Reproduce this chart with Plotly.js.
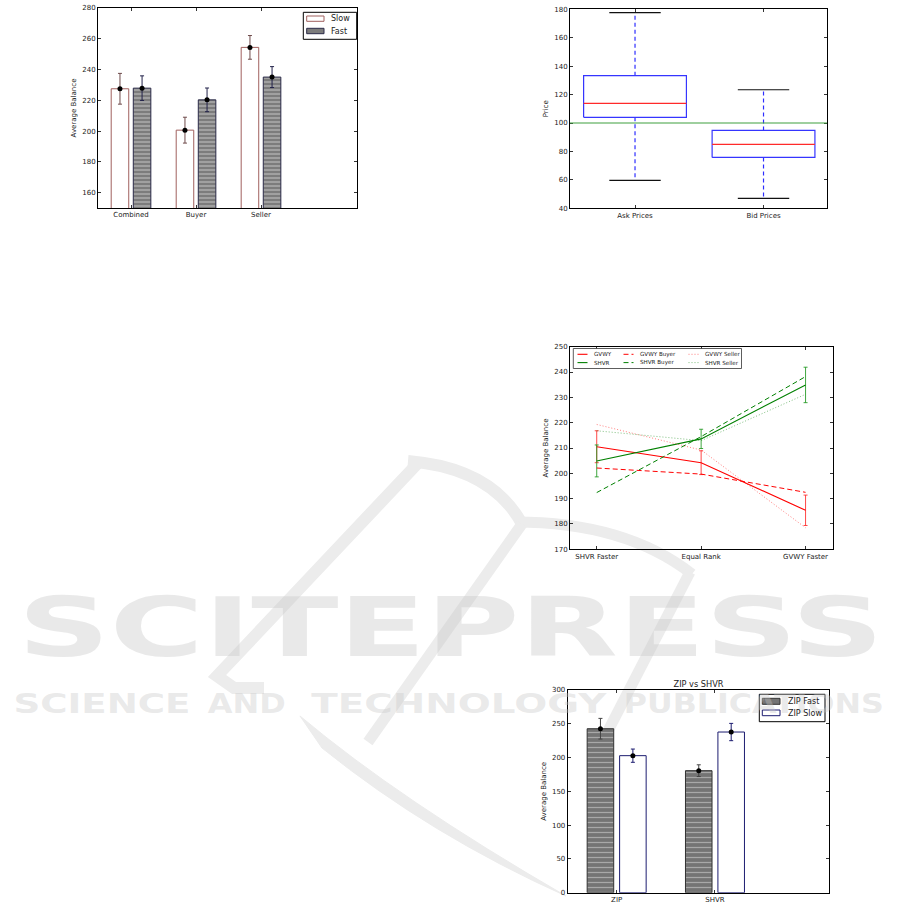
<!DOCTYPE html>
<html><head><meta charset="utf-8">
<script src="https://cdn.plot.ly/plotly-3.0.1.min.js"></script>
<style>html,body{margin:0;padding:0;background:#fff;} #chart{width:901px;height:905px;}</style>
</head><body><div id="chart"></div>
<script>
// ---------- Chart 1: Slow vs Fast average balance ----------
const balCategories = ['Combined', 'Buyer', 'Seller'];
const balSeries = ['Slow', 'Fast'];
const balSlow = [227.5, 200.6, 254.4];
const balSlowErr = [10.0, 8.4, 7.7];
const balFast = [227.9, 220.3, 235.1];
const balFastErr = [8.0, 7.7, 6.8];

// ---------- Chart 2: Ask / Bid price box plot ----------
const priceCategories = ['Ask Prices', 'Bid Prices'];
const priceLowerWhisker = [59.7, 47.0];
const priceQ1 = [104.0, 75.8];
const priceMedian = [113.8, 85.0];
const priceQ3 = [133.3, 94.8];
const priceUpperWhisker = [177.6, 123.4];
const priceReference = 100;

// ---------- Chart 3: rank lines ----------
const rankCategories = ['SHVR Faster', 'Equal Rank', 'GVWY Faster'];
const rankSeries = ['GVWY', 'SHVR', 'GVWY Buyer', 'SHVR Buyer', 'GVWY Seller', 'SHVR Seller'];
const gvwy = [210.5, 204.2, 185.4];
const gvwyErr = [6.3, 4.7, 6.0];
const shvr = [204.9, 213.6, 234.9];
const shvrErr = [6.3, 3.8, 7.0];
const gvwyBuyer = [202.1, 199.7, 192.5];
const shvrBuyer = [192.4, 214.5, 238.2];
const gvwySeller = [219.3, 209.2, 178.5];
const shvrSeller = [216.8, 212.9, 231.2];

// ---------- Chart 4: ZIP vs SHVR ----------
const zipTitle = 'ZIP vs SHVR';
const zipCategories = ['ZIP', 'SHVR'];
const zipSeries = ['ZIP Fast', 'ZIP Slow'];
const zipFast = [242.7, 180.6];
const zipFastErr = [15.3, 8.7];
const zipSlow = [202.8, 237.8];
const zipSlowErr = [9.8, 12.8];

// ---------- helpers ----------
const W = 901, H = 905;
const fx = p => p / W;
const fy = p => 1 - p / H;
const FONT = 'DejaVu Sans';
const TXT = '#222';
const idx = arr => arr.map((_, i) => i);

const axBase = {
  showline: true, linecolor: '#000', linewidth: 1, mirror: 'allticks',
  ticks: 'inside', ticklen: 3, tickwidth: 0.8, tickcolor: '#000',
  showgrid: false, zeroline: false,
  tickfont: {family: FONT, size: 7, color: TXT}
};
const yTitle = t => ({text: t, font: {family: FONT, size: 7, color: TXT}, standoff: 4});

// styles
const SLOW1 = {fill: '#ffffff', edge: '#a0605e', err: '#6e4a4a'};
const FAST1 = {fill: '#7c7c7c', edge: '#2a2a48', err: '#22224a', hatch: '#b8b8b8'};
const FAST4 = {fill: '#747474', edge: '#333333', err: '#444444', hatch: '#a8a8a8'};
const SLOW4 = {fill: '#ffffff', edge: '#1c1c70', err: '#1c1c70'};
const rankStyle = [
  {color: '#ff0000', width: 1.1, dash: 'solid', err: 'rgba(255,40,40,0.85)'},
  {color: '#008000', width: 1.1, dash: 'solid', err: 'rgba(30,150,30,0.85)'},
  {color: '#ff0000', width: 1, dash: '5px,3px'},
  {color: '#008000', width: 1, dash: '5px,3px'},
  {color: 'rgba(255,0,0,0.5)', width: 1, dash: '1px,2px'},
  {color: 'rgba(0,128,0,0.5)', width: 1, dash: '1px,2px'}
];

const traces = [];

// Chart 1 bars
const g1 = 0.17, w1 = 0.27;
traces.push({
  type: 'bar', name: balSeries[0], showlegend: false, xaxis: 'x', yaxis: 'y',
  x: idx(balCategories).map(i => i - g1), y: balSlow, width: w1,
  marker: {color: SLOW1.fill, line: {color: SLOW1.edge, width: 1}}
});
traces.push({
  type: 'bar', name: balSeries[1], showlegend: false, xaxis: 'x', yaxis: 'y',
  x: idx(balCategories).map(i => i + g1), y: balFast, width: w1,
  marker: {color: FAST1.fill, line: {color: FAST1.edge, width: 1},
           pattern: {shape: '-', bgcolor: FAST1.fill, fgcolor: FAST1.hatch, size: 4, solidity: 0.3}}
});
traces.push({
  type: 'scatter', mode: 'markers', showlegend: false, xaxis: 'x', yaxis: 'y',
  x: idx(balCategories).map(i => i - g1), y: balSlow,
  marker: {color: '#000', size: 5},
  error_y: {type: 'data', array: balSlowErr, color: SLOW1.err, thickness: 1, width: 2}
});
traces.push({
  type: 'scatter', mode: 'markers', showlegend: false, xaxis: 'x', yaxis: 'y',
  x: idx(balCategories).map(i => i + g1), y: balFast,
  marker: {color: '#000', size: 5},
  error_y: {type: 'data', array: balFastErr, color: FAST1.err, thickness: 1, width: 2}
});

// Chart 2 box plot built from the stats arrays
const bw = 0.4, cw = 0.2;
const boxX = [], boxY = [], medX = [], medY = [], whX = [], whY = [], capX = [], capY = [];
priceCategories.forEach((c, i) => {
  boxX.push(i - bw, i + bw, i + bw, i - bw, i - bw, null);
  boxY.push(priceQ1[i], priceQ1[i], priceQ3[i], priceQ3[i], priceQ1[i], null);
  medX.push(i - bw, i + bw, null); medY.push(priceMedian[i], priceMedian[i], null);
  whX.push(i, i, null, i, i, null);
  whY.push(priceQ3[i], priceUpperWhisker[i], null, priceQ1[i], priceLowerWhisker[i], null);
  capX.push(i - cw, i + cw, null, i - cw, i + cw, null);
  capY.push(priceUpperWhisker[i], priceUpperWhisker[i], null, priceLowerWhisker[i], priceLowerWhisker[i], null);
});
const c2 = {type: 'scatter', mode: 'lines', showlegend: false, xaxis: 'x2', yaxis: 'y2'};
traces.push(Object.assign({}, c2, {x: whX, y: whY, line: {color: '#2d2dff', width: 1.2, dash: '4px,3px'}}));
traces.push(Object.assign({}, c2, {x: capX, y: capY, line: {color: '#111', width: 1.2}}));
traces.push(Object.assign({}, c2, {x: boxX, y: boxY, line: {color: '#3535ff', width: 1.2}}));
traces.push(Object.assign({}, c2, {x: medX, y: medY, line: {color: '#ff2a2a', width: 1.2}}));

// Chart 3 lines
const rankValues = [gvwy, shvr, gvwyBuyer, shvrBuyer, gvwySeller, shvrSeller];
const rankErr = [gvwyErr, shvrErr, null, null, null, null];
rankValues.forEach((vals, k) => {
  const st = rankStyle[k];
  const t = {type: 'scatter', mode: 'lines', showlegend: false, name: rankSeries[k],
    xaxis: 'x3', yaxis: 'y3', x: idx(rankCategories), y: vals,
    line: {color: st.color, width: st.width, dash: st.dash}};
  if (rankErr[k]) t.error_y = {type: 'data', array: rankErr[k], color: st.err, thickness: 1, width: 2};
  traces.push(t);
});

// Chart 4 bars
const g4 = 0.165, w4 = 0.27;
traces.push({
  type: 'bar', name: zipSeries[0], showlegend: false, xaxis: 'x4', yaxis: 'y4',
  x: idx(zipCategories).map(i => i - g4), y: zipFast, width: w4,
  marker: {color: FAST4.fill, line: {color: FAST4.edge, width: 1},
           pattern: {shape: '-', bgcolor: FAST4.fill, fgcolor: FAST4.hatch, size: 5, solidity: 0.25}}
});
traces.push({
  type: 'bar', name: zipSeries[1], showlegend: false, xaxis: 'x4', yaxis: 'y4',
  x: idx(zipCategories).map(i => i + g4), y: zipSlow, width: w4,
  marker: {color: SLOW4.fill, line: {color: SLOW4.edge, width: 1}}
});
traces.push({
  type: 'scatter', mode: 'markers', showlegend: false, xaxis: 'x4', yaxis: 'y4',
  x: idx(zipCategories).map(i => i - g4), y: zipFast,
  marker: {color: '#000', size: 5},
  error_y: {type: 'data', array: zipFastErr, color: FAST4.err, thickness: 1, width: 2}
});
traces.push({
  type: 'scatter', mode: 'markers', showlegend: false, xaxis: 'x4', yaxis: 'y4',
  x: idx(zipCategories).map(i => i + g4), y: zipSlow,
  marker: {color: '#000', size: 5},
  error_y: {type: 'data', array: zipSlowErr, color: SLOW4.err, thickness: 1, width: 2}
});

// ---------- paper-space helpers ----------
function path(cmds) {
  let out = '', nums = [];
  cmds.forEach(c => {
    if (typeof c === 'string') { out += c + ' '; }
    else { nums.push(c); if (nums.length === 2) { out += fx(nums[0]).toFixed(5) + ',' + fy(nums[1]).toFixed(5) + ' '; nums = []; } }
  });
  return out.trim();
}
const rectP = (x0, y0, x1, y1, fill, line, lw, layer) => ({type: 'rect', xref: 'paper', yref: 'paper', layer: layer || 'above',
  x0: fx(x0), x1: fx(x1), y0: fy(y1), y1: fy(y0), fillcolor: fill, line: {color: line, width: lw}});
const lineP = (x0, y, x1, st) => ({type: 'line', xref: 'paper', yref: 'paper', layer: 'above',
  x0: fx(x0), x1: fx(x1), y0: fy(y), y1: fy(y), line: {color: st.color, width: st.width, dash: st.dash}});
const textP = (t, x, y, size) => ({text: t, xref: 'paper', yref: 'paper', x: fx(x), y: fy(y),
  xanchor: 'left', yanchor: 'middle', showarrow: false, font: {family: FONT, size: size, color: TXT}});

// ---------- watermark (decorative) ----------
const WM = '#ececec';
const wmStroke = (cmds, w) => ({type: 'path', xref: 'paper', yref: 'paper', layer: 'below',
  path: path(cmds), line: {color: WM, width: w}});
const wmFill = (cmds) => ({type: 'path', xref: 'paper', yref: 'paper', layer: 'below',
  path: path(cmds), fillcolor: WM, line: {color: WM, width: 1}});

const shapes = [
  wmStroke(['M', 418, 463, 'L', 217, 676, 'L', 234, 688, 'L', 264, 688], 12),
  wmStroke(['M', 408, 461, 'Q', 492, 468, 522, 524], 12),
  wmStroke(['M', 515, 522, 'Q', 625, 522, 692, 574], 11),
  wmStroke(['M', 690, 572, 'L', 594, 758], 11),
  wmStroke(['M', 522, 524, 'L', 368, 742], 11),
  wmFill(['M', 300, 716, 'Q', 400, 800, 566, 896, 'Q', 430, 835, 322, 748, 'Z']),
  {type: 'line', xref: 'x2 domain', yref: 'y2', x0: 0, x1: 1, y0: priceReference, y1: priceReference,
   line: {color: '#3f9f3f', width: 1.2}}
];
const annotations = [];
const wmWords = [['SCITEPRESS', 450, 627, 82, 866],
                 ['SCIENCE', 101.5, 703.5, 26, 177], ['AND', 246, 703.5, 26, 78],
                 ['TECHNOLOGY', 459.5, 703.5, 26, 295], ['PUBLICATIONS', 753, 703.5, 26, 260]];
wmWords.forEach(([t, x, y, s]) => annotations.push({text: t, xref: 'paper', yref: 'paper', x: fx(x), y: fy(y),
  xanchor: 'center', yanchor: 'middle', showarrow: false,
  font: {family: FONT, size: s, weight: 'bold', color: 'rgba(200,200,200,0.4)'}}));

// ---------- custom legends (matplotlib-sized) ----------
// Chart 1
shapes.push(rectP(303.3, 12.3, 356.7, 39.3, '#fff', '#000', 1));
shapes.push(rectP(306.7, 16, 324, 21.3, SLOW1.fill, SLOW1.edge, 1));
shapes.push(rectP(306.7, 28.3, 324, 33.7, FAST1.fill, FAST1.edge, 1));
annotations.push(textP(balSeries[0], 329, 18.7, 8));
annotations.push(textP(balSeries[1], 329, 31, 8));
// Chart 4
shapes.push(rectP(759.3, 694.3, 825, 721.7, '#fff', '#000', 1));
shapes.push(rectP(762.3, 698.3, 780, 704.3, FAST4.fill, FAST4.edge, 1));
shapes.push(rectP(762.3, 710, 780, 715.7, SLOW4.fill, SLOW4.edge, 1));
annotations.push(textP(zipSeries[0], 785.5, 701.3, 8));
annotations.push(textP(zipSeries[1], 785.5, 713, 8));
// Chart 3 (3 columns x 2 rows)
shapes.push(rectP(573.3, 348.5, 741.5, 368.5, '#fff', '#333', 0.8));
const colSample = [577.5, 623.5, 688.5], colText = [591.5, 638, 703], rowY = [354.3, 362.6];
rankSeries.forEach((name, k) => {
  const col = Math.floor(k / 2), row = k % 2;
  shapes.push(lineP(colSample[col], rowY[row], colSample[col] + 10, rankStyle[k]));
  annotations.push(textP(name, colText[col], rowY[row], 5.6));
});

const layout = {
  width: W, height: H, margin: {l: 0, r: 0, t: 0, b: 0},
  paper_bgcolor: '#fff', plot_bgcolor: 'rgba(0,0,0,0)',
  barmode: 'overlay', hovermode: false, showlegend: false,
  font: {family: FONT, color: TXT},
  title: {text: zipTitle, x: fx(698.5), y: fy(684.5), xanchor: 'center', yanchor: 'middle',
          xref: 'paper', yref: 'paper', font: {family: FONT, size: 8.2, color: TXT}},
  xaxis: Object.assign({}, axBase, {domain: [fx(98), fx(357)], anchor: 'y', range: [-0.508, 3.477],
    tickvals: idx(balCategories), ticktext: balCategories}),
  yaxis: Object.assign({}, axBase, {domain: [fy(208), fy(8)], anchor: 'x', range: [150, 280], tick0: 0, dtick: 20,
    title: yTitle('Average Balance')}),
  xaxis2: Object.assign({}, axBase, {domain: [fx(570), fx(827)], anchor: 'y2', range: [-0.506, 1.494],
    tickvals: idx(priceCategories), ticktext: priceCategories}),
  yaxis2: Object.assign({}, axBase, {domain: [fy(208.3), fy(9.3)], anchor: 'x2', range: [40, 180], tick0: 0, dtick: 20,
    title: yTitle('Price')}),
  xaxis3: Object.assign({}, axBase, {domain: [fx(570), fx(832.7)], anchor: 'y3', range: [-0.256, 2.26],
    tickvals: idx(rankCategories), ticktext: rankCategories}),
  yaxis3: Object.assign({}, axBase, {domain: [fy(549.3), fy(346.7)], anchor: 'x3', range: [170, 250], tick0: 0, dtick: 10,
    title: yTitle('Average Balance')}),
  xaxis4: Object.assign({}, axBase, {domain: [fx(567.7), fx(829.3)], anchor: 'y4', range: [-0.498, 2.163],
    tickvals: idx(zipCategories), ticktext: zipCategories}),
  yaxis4: Object.assign({}, axBase, {domain: [fy(892.7), fy(690)], anchor: 'x4', range: [0, 300], tick0: 0, dtick: 50,
    title: yTitle('Average Balance')}),
  shapes: shapes,
  annotations: annotations
};

Plotly.newPlot('chart', traces, layout, {staticPlot: true, displayModeBar: false}).then(() => {
  // stretch the watermark words to the width they have in the reference
  const widths = {};
  wmWords.forEach(w => { widths[w[0]] = w[4]; });
  document.querySelectorAll('.annotation-text').forEach(el => {
    const w = widths[el.textContent];
    if (w) { el.setAttribute('textLength', w); el.setAttribute('lengthAdjust', 'spacingAndGlyphs'); }
  });
});
</script>
</body></html>
